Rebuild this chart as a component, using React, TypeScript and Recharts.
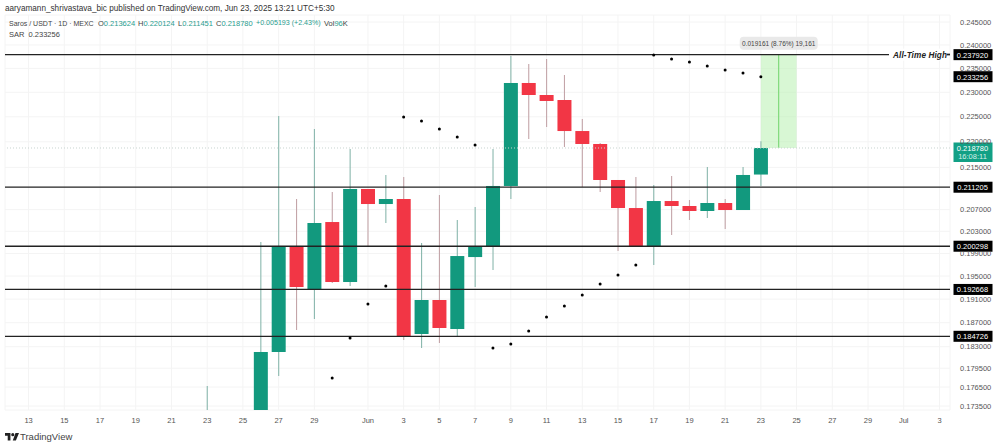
import React from 'react';
import { ComposedChart, Bar, Line, XAxis, YAxis, CartesianGrid, ReferenceLine, ReferenceArea } from 'recharts';

// day index 0 = May 13
const dayIndex = [10,13,14,15,16,17,18,19,20,21,22,23,24,25,26,27,28,29,30,31,32,33,34,35,36,37,38,39,40,41];
const opens  = [.1700,.1705,.18214,.20034,.19274,.20470,.19396,.21087,.20804,.20898,.18511,.19085,.18594,.19836,.20016,.21144,.23194,.22945,.22842,.22214,.21957,.21258,.20729,.20016,.20860,.20767,.20674,.20823,.20692,.213624];
const highs  = [.17666,.20106,.22516,.20898,.22254,.21030,.21859,.21087,.21354,.21316,.20088,.20973,.20507,.20748,.21859,.23763,.23593,.23699,.23361,.22455,.21978,.21258,.21316,.21163,.21335,.20879,.21508,.20898,.21508,.220124];
const lows   = [.1680,.1690,.17825,.18577,.18762,.19379,.19327,.20034,.20452,.18411,.18280,.18362,.18477,.19309,.19606,.20898,.22056,.22294,.21898,.21125,.21030,.19944,.20016,.19694,.20233,.20507,.20544,.20342,.20692,.211451];
const closes = [.1705,.18214,.20034,.19309,.20452,.19396,.21087,.20804,.20898,.18477,.19085,.18611,.19854,.20016,.21144,.23194,.22945,.22822,.22214,.21957,.21258,.20729,.20016,.20860,.20767,.20674,.20823,.20692,.21354,.21878];

const sarDays   = [17,18,19,20,21,22,23,24,25,26,27,28,29,30,31,32,33,34,35,36,37,38,39,40,41];
const sarValues = [.17793,.18444,.19017,.19327,.22496,.22414,.22254,.22095,.21937,.18280,.18345,.18560,.18795,.18982,.19171,.19361,.19518,.19694,.23784,.23699,.23636,.23551,.23466,.23403,.233256];

const xTicks = [0,2,4,6,8,10,12,14,16,19,21,23,25,27,29,31,33,35,37,39,41,43,45,47,49,51];
const xTickLabels = ['13','15','17','19','21','23','25','27','29','Jun','3','5','7','9','11','13','15','17','19','21','23','25','27','29','Jul','3'];
const yTicks = [0.245,0.24,0.235,0.23,0.225,0.22,0.215,0.207,0.203,0.199,0.195,0.191,0.187,0.183,0.1795,0.1765,0.1735];
const levels = [0.23792,0.211205,0.200298,0.192668,0.184726];
const sarLast = 0.233256;
const lastPrice = 0.21878;
const athLevel = 0.23792;
const measureLabel = '0.019161 (8.76%) 19,161';

const GREEN = '#12997e';
const RED = '#f23645';
const FONT = '"Liberation Sans", Arial, sans-serif';
const byDay = new Map<number, any>();
dayIndex.forEach((d, i) => byDay.set(d, { i: d, o: opens[i], h: highs[i], l: lows[i], c: closes[i], range: [lows[i], highs[i]] }));
sarDays.forEach((d, i) => {
  const row = byDay.get(d) || { i: d };
  row.sar = sarValues[i];
  byDay.set(d, row);
});
const data = Array.from(byDay.values()).sort((a, b) => a.i - b.i);

const Candle = (p: any) => {
  const { x, y, width, height, payload } = p;
  if (!payload || payload.h == null) return null;
  const cx = x + width / 2;
  // log-scale position inside the bar drawn by the library for [low, high]
  const at = (v: number) => y + height * (Math.log(payload.h) - Math.log(v)) / (Math.log(payload.h) - Math.log(payload.l));
  const up = payload.c >= payload.o;
  const top = at(Math.max(payload.o, payload.c));
  const bot = at(Math.min(payload.o, payload.c));
  return (
    <g>
      <line x1={cx} x2={cx} y1={y} y2={y + height} stroke={up ? '#8ab8ae' : '#c4a5a9'} strokeWidth={1.1} />
      <rect x={cx - 7} y={top} width={14} height={Math.max(bot - top, 1)} fill={up ? GREEN : RED} />
    </g>
  );
};

const Tag = ({ viewBox, text }: any) => {
  if (!viewBox) return null;
  const tx = viewBox.x + viewBox.width + 3.5;
  return (
    <g>
      <rect x={tx} y={viewBox.y - 5.5} width={39} height={11} fill="#000" />
      <text x={tx + 19} y={viewBox.y + 3} textAnchor="middle" fontSize={7.5} fontFamily={FONT} fill="#fff">{text}</text>
    </g>
  );
};

const AthLabel = ({ viewBox, text }: any) => {
  if (!viewBox) return null;
  const right = viewBox.x + viewBox.width;
  return (
    <g>
      <rect x={right - 61} y={viewBox.y - 6} width={58} height={12} fill="#fff" />
      <rect x={right - 3} y={viewBox.y - 1} width={3} height={1.5} fill="#222" />
      <text x={right - 57} y={viewBox.y + 3} fontSize={8.2} fontStyle="italic" fontWeight={700} textLength={54} lengthAdjust="spacing" fontFamily={FONT} fill="#222">All-Time High</text>
      <Tag viewBox={viewBox} text={text} />
    </g>
  );
};

const LastTag = ({ viewBox, text, sub }: any) => {
  if (!viewBox) return null;
  const tx = viewBox.x + viewBox.width + 3.5;
  return (
    <g>
      <rect x={tx} y={viewBox.y - 5.5} width={39} height={19.5} fill="#12a085" />
      <text x={tx + 19} y={viewBox.y + 3} textAnchor="middle" fontSize={7.5} fontFamily={FONT} fill="#fff">{text}</text>
      <text x={tx + 19} y={viewBox.y + 11.5} textAnchor="middle" fontSize={7.5} fontFamily={FONT} fill="#d5f0e9">{sub}</text>
    </g>
  );
};

const MeasureTag = ({ viewBox, text }: any) => {
  if (!viewBox) return null;
  const cx = viewBox.x;
  return (
    <g>
      <rect x={cx - 39} y={viewBox.y - 18} width={78} height={13} rx={4} fill="#e9e9e9" />
      <text x={cx} y={viewBox.y - 9} textAnchor="middle" fontSize={6.5} fontFamily={FONT} fill="#444">{text}</text>
    </g>
  );
};

const txt = (left: number, top: number, size: number, color: string, extra: any = {}) => ({
  position: 'absolute' as const, left, top, fontSize: size, color, fontFamily: FONT, lineHeight: 1, whiteSpace: 'pre' as const, ...extra,
});

const TEAL = '#2a9d8f';
const INK = '#444';
const Ohlc = ({ left, k, v }: { left: number; k: string; v: string }) => (
  <div style={txt(left, 20, 7.5, INK)}>{k}<span style={{ color: TEAL }}>{v}</span></div>
);

export default function App() {
  return (
    <div style={{ position: 'absolute', left: 0, top: 0, width: 1000, height: 446, background: '#fff', overflow: 'hidden' }}>
      <ComposedChart
        width={1000}
        height={446}
        data={data}
        margin={{ top: 15, right: 0, bottom: 16, left: 5 }}
      >
        <CartesianGrid stroke="#f4f4f4" strokeWidth={1} />
        <XAxis
          type="number"
          dataKey="i"
          domain={[-1.32, 51.59]}
          allowDataOverflow
          ticks={xTicks}
          interval={0}
          tickFormatter={(v: number) => xTickLabels[xTicks.indexOf(v)] ?? ''}
          axisLine={false}
          tickLine={false}
          tick={{ fontSize: 7.5, fill: '#555', fontFamily: FONT }}
          tickMargin={2}
          height={20}
        />
        <YAxis
          orientation="right"
          scale="log"
          domain={[0.17289, 0.24655]}
          allowDataOverflow
          ticks={yTicks}
          interval={0}
          tickFormatter={(v: number) => v.toFixed(6)}
          axisLine={false}
          tickLine={false}
          tick={{ fontSize: 7.5, fill: '#555', fontFamily: FONT, textAnchor: 'start' }}
          tickMargin={4}
          width={50}
        />
        <ReferenceArea x1={41} x2={43} y1={lastPrice} y2={athLevel} fill="#b8f0b0" fillOpacity={0.55} stroke="none" />
        <ReferenceLine segment={[{ x: 42, y: lastPrice }, { x: 42, y: athLevel }]} stroke="#6fd46a" strokeWidth={1} label={<MeasureTag text={measureLabel} />} />
        <ReferenceLine y={lastPrice} stroke="#c8d4d0" strokeDasharray="1 2" label={<LastTag text="0.218780" sub="16:08:11" />} />
        <ReferenceLine y={sarLast} stroke="none" label={<Tag text="0.233256" />} />
        {levels.map((v, i) => (
          <ReferenceLine
            key={v}
            y={v}
            stroke="#222"
            strokeWidth={1.3}
            label={i === 0 ? <AthLabel text={v.toFixed(6)} /> : <Tag text={v.toFixed(6)} />}
          />
        ))}
        <Bar dataKey="range" barSize={14} shape={<Candle />} isAnimationActive={false} />
        <Line dataKey="sar" stroke="none" dot={{ r: 1.5, fill: '#000', stroke: 'none' }} activeDot={false} connectNulls={false} isAnimationActive={false} />
      </ComposedChart>
      <div style={txt(5, 5, 8.2, '#333')}>aaryamann_shrivastava_bic published on TradingView.com, Jun 23, 2025 13:21 UTC+5:30</div>
      <div style={txt(9, 20, 7, INK)}>Saros / USDT · 1D · MEXC</div>
      <Ohlc left={98} k="O" v="0.213624" />
      <Ohlc left={138} k="H" v="0.220124" />
      <Ohlc left={178} k="L" v="0.211451" />
      <Ohlc left={216} k="C" v="0.218780" />
      <div style={txt(256, 20, 7.1, TEAL)}>+0.005193 (+2.43%)</div>
      <div style={txt(324, 20, 7.5, INK)}>Vol<span style={{ color: TEAL }}>96</span>K</div>
      <div style={txt(9, 31, 7.5, INK)}>SAR  0.233256</div>
      <svg style={{ position: 'absolute', left: 5, top: 433 }} width={14} height={8} viewBox="0 0 36 20">
        <path d="M14 19H7V7H0V0h14v19zM28 19h-8L27 0h9l-8 19z" fill="#222" />
        <circle cx="20" cy="4" r="4" fill="#222" />
      </svg>
      <div style={txt(20, 432, 9.5, INK)}>TradingView</div>
    </div>
  );
}
